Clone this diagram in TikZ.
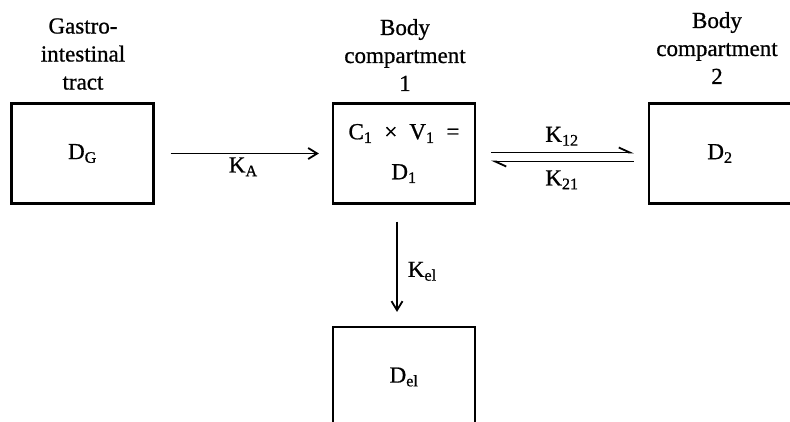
\documentclass[tikz,border=0pt]{standalone}
\usepackage{fontspec}
\setmainfont{Liberation Serif}[FakeBold=0.8]
\usetikzlibrary{arrows.meta}
\begin{document}
\begin{tikzpicture}[x=1pt,y=-1pt,
  txt/.style={font=\fontsize{23}{28}\selectfont},
  box/.style={txt, draw, line width=2.2pt, minimum width=142pt, minimum height=100pt, inner sep=0pt, align=center},
  ttl/.style={txt, align=center, inner sep=0pt},
  lbl/.style={txt, inner sep=0pt},
  arr/.style={line width=1.8pt, -{Straight Barb[length=9pt,width=11pt,line width=1.8pt]}},
  harp/.style={line width=1.8pt, -{Straight Barb[harpoon,length=11pt,width=10pt,line width=1.8pt]}}]
\useasboundingbox (0,0) rectangle (790,421);
\clip (0,0) rectangle (790,421);
% boxes
\node[box] (bg) at (82.5,153.5) {D\textsubscript{G}};
\node[box] (b1) at (404,153.5) {C\textsubscript{1}\hspace{12pt}×\hspace{12pt}V\textsubscript{1}\hspace{12pt}=\\[12pt]D\textsubscript{1}};
\node[box] (b2) at (720,153.5) {D\textsubscript{2}};
\node[box] (be) at (404,377) {D\textsubscript{el}};
% titles
\node[ttl] (tg) at (83,54) {Gastro-\\intestinal\\tract};
\node[ttl] (t1) at (405,55) {Body\\compartment\\1};
\node[ttl] (t2) at (717,48) {Body\\compartment\\2};
% connectors
\draw[arr, shorten <=16pt, shorten >=13pt] (bg.east) -- (b1.west)
  node[lbl, midway, below=3pt] {K\textsubscript{A}};
\draw[harp, shorten <=15pt, shorten >=14pt] ([yshift=1pt]b1.east) -- ([yshift=1pt]b2.west)
  node[lbl, midway, above=6pt] {K\textsubscript{12}};
\draw[harp, shorten <=14pt, shorten >=15pt] ([yshift=-8pt]b2.west) -- ([yshift=-8pt]b1.east)
  node[lbl, midway, below=8pt] {K\textsubscript{21}};
\draw[arr, shorten <=17pt, shorten >=14pt] ([xshift=-7pt]b1.south) -- ([xshift=-7pt]be.north)
  node[lbl, pos=0.55, right=10pt] {K\textsubscript{el}};
\end{tikzpicture}
\end{document}
